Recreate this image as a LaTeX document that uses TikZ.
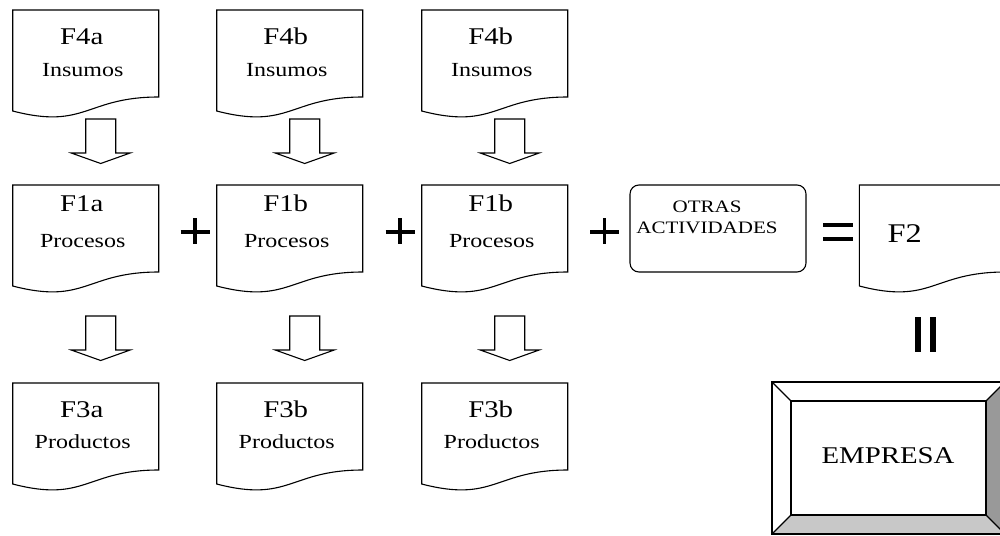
\documentclass[tikz,border=0pt]{standalone}
\usepackage{fontspec}
\setmainfont{Liberation Serif}[FakeStretch=1.2]
\definecolor{bevdark}{HTML}{999999}
\definecolor{bevlight}{HTML}{C8C8C8}
\newcommand{\titin}{{"F4a","F4b","F4b"}}
\newcommand{\titpro}{{"F1a","F1b","F1b"}}
\newcommand{\titout}{{"F3a","F3b","F3b"}}
\tikzset{
  pics/docu/.style={code={
    \draw[docline] (0,0) -- (146,0) -- (146,87)
      .. controls (73,87) and (73,120) .. (0,101) -- cycle;
  }},
  pics/blkarrow/.style={code={
    \draw[docline] (-15,0) -- (15,0) -- (15,34) -- (29.5,34) -- (0,44.5)
      -- (-29.5,34) -- (-15,34) -- cycle;
  }}
}
\begin{document}
\begin{tikzpicture}[x=1pt,y=-1pt,line width=1.1pt,
    docline/.style={draw,fill=white,line join=miter},
    title/.style={anchor=base,inner sep=0pt,font=\fontsize{24}{24}\selectfont},
    sub/.style={anchor=base,inner sep=0pt,font=\fontsize{20}{20}\selectfont},
    small/.style={inner sep=0pt,align=center,font=\fontsize{17.5}{21.5}\selectfont},
    sign/.style={line width=3.3pt},
    bigsign/.style={line width=4.5pt}]
    \useasboundingbox (0,0) rectangle (1000,535);
    % three columns: insumos, procesos, productos
    \foreach \x [count=\k] in {12.7,216.7,421.7}
        {
        \pic at (\x,10) {docu};
        \pic at (\x,185) {docu};
        \pic at (\x,383) {docu};
        \pic at (\x+88,119) {blkarrow};
        \pic at (\x+88,316) {blkarrow};
        \node[title] (in\k) at (\x+69,45) {\pgfmathparse{\titin[\k-1]}\pgfmathresult};
        \node[sub] (insub\k) at (\x+70,76) {Insumos};
        \node[title] (pro\k) at (\x+69,211) {\pgfmathparse{\titpro[\k-1]}\pgfmathresult};
        \node[sub] (prosub\k) at (\x+70,247) {Procesos};
        \node[title] (out\k) at (\x+69,417) {\pgfmathparse{\titout[\k-1]}\pgfmathresult};
        \node[sub] (outsub\k) at (\x+70,448) {Productos};
        }
    % plus signs
    \foreach \x in {195,400,604.5}
        {
        \draw[sign] (\x-14.5,232) -- (\x+14.5,232);
        \draw[sign] (\x,218) -- (\x,244);
        }
    % otras actividades
    \draw[rounded corners=9pt] (630,185) rectangle (806,272);
    \node[small,anchor=base] (otras) at (707,233.5) {OTRAS\\ACTIVIDADES};
    % equals and F2
    \draw[bigsign] (823,225) -- (853,225);
    \draw[bigsign] (823,239) -- (853,239);
    \pic at (859.3,185) {docu};
    \node[title,anchor=base west,font=\fontsize{27}{27}\selectfont] (f2) at (887,242) {F2};
    \draw[bigsign,line width=6pt] (918,317) -- (918,352);
    \draw[bigsign,line width=6pt] (933,317) -- (933,352);
    % empresa
    \fill[white] (772,382) -- (1005,382) -- (986,401) -- (791,401) -- cycle;
    \fill[white] (772,382) -- (791,401) -- (791,515) -- (772,534) -- cycle;
    \fill[bevdark] (1005,382) -- (986,401) -- (986,515) -- (1005,534) -- cycle;
    \fill[bevlight] (772,534) -- (791,515) -- (986,515) -- (1005,534) -- cycle;
    \draw (772,382) rectangle (1005,534);
    \draw (791,401) rectangle (986,515);
    \draw (772,382) -- (791,401);
    \draw (1005,382) -- (986,401);
    \draw (772,534) -- (791,515);
    \draw (1005,534) -- (986,515);
    \node[title,font=\fontsize{24}{24}\selectfont] (empresa) at (888,463) {EMPRESA};
\end{tikzpicture}
\end{document}
